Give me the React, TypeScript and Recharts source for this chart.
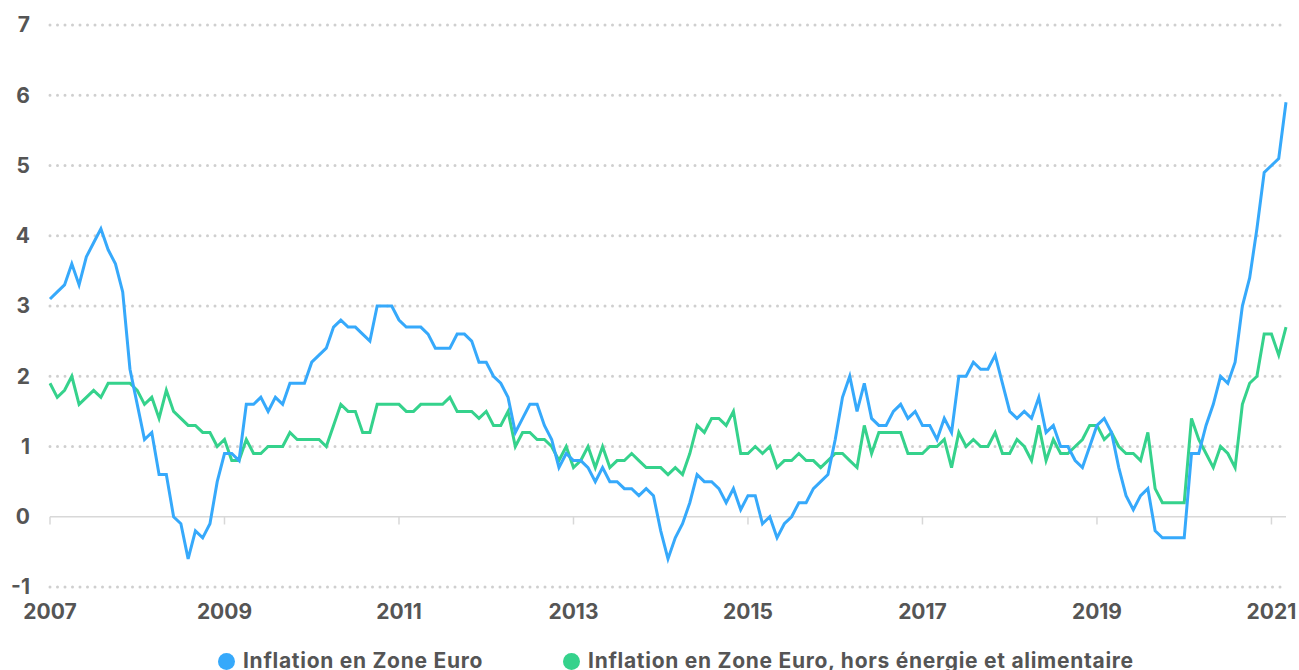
import React from 'react';
import {
  LineChart,
  Line,
  XAxis,
  YAxis,
  CartesianGrid,
  ReferenceLine,
  Legend,
} from 'recharts';

// Monthly annual inflation rates (%), one value per month, left to right
const HICP: number[] = [
  3.1, 3.2, 3.3, 3.6, 3.3, 3.7, 3.9, 4.1, 3.8, 3.6, 3.2, 2.1,
  1.6, 1.1, 1.2, 0.6, 0.6, 0.0, -0.1, -0.6, -0.2, -0.3, -0.1, 0.5,
  0.9, 0.9, 0.8, 1.6, 1.6, 1.7, 1.5, 1.7, 1.6, 1.9, 1.9, 1.9,
  2.2, 2.3, 2.4, 2.7, 2.8, 2.7, 2.7, 2.6, 2.5, 3.0, 3.0, 3.0,
  2.8, 2.7, 2.7, 2.7, 2.6, 2.4, 2.4, 2.4, 2.6, 2.6, 2.5, 2.2,
  2.2, 2.0, 1.9, 1.7, 1.2, 1.4, 1.6, 1.6, 1.3, 1.1, 0.7, 0.9,
  0.8, 0.8, 0.7, 0.5, 0.7, 0.5, 0.5, 0.4, 0.4, 0.3, 0.4, 0.3,
  -0.2, -0.6, -0.3, -0.1, 0.2, 0.6, 0.5, 0.5, 0.4, 0.2, 0.4, 0.1,
  0.3, 0.3, -0.1, 0.0, -0.3, -0.1, 0.0, 0.2, 0.2, 0.4, 0.5, 0.6,
  1.1, 1.7, 2.0, 1.5, 1.9, 1.4, 1.3, 1.3, 1.5, 1.6, 1.4, 1.5,
  1.3, 1.3, 1.1, 1.4, 1.2, 2.0, 2.0, 2.2, 2.1, 2.1, 2.3, 1.9,
  1.5, 1.4, 1.5, 1.4, 1.7, 1.2, 1.3, 1.0, 1.0, 0.8, 0.7, 1.0,
  1.3, 1.4, 1.2, 0.7, 0.3, 0.1, 0.3, 0.4, -0.2, -0.3, -0.3, -0.3,
  -0.3, 0.9, 0.9, 1.3, 1.6, 2.0, 1.9, 2.2, 3.0, 3.4, 4.1, 4.9,
  5.0, 5.1, 5.9,
];

const CORE: number[] = [
  1.9, 1.7, 1.8, 2.0, 1.6, 1.7, 1.8, 1.7, 1.9, 1.9, 1.9, 1.9,
  1.8, 1.6, 1.7, 1.4, 1.8, 1.5, 1.4, 1.3, 1.3, 1.2, 1.2, 1.0,
  1.1, 0.8, 0.8, 1.1, 0.9, 0.9, 1.0, 1.0, 1.0, 1.2, 1.1, 1.1,
  1.1, 1.1, 1.0, 1.3, 1.6, 1.5, 1.5, 1.2, 1.2, 1.6, 1.6, 1.6,
  1.6, 1.5, 1.5, 1.6, 1.6, 1.6, 1.6, 1.7, 1.5, 1.5, 1.5, 1.4,
  1.5, 1.3, 1.3, 1.5, 1.0, 1.2, 1.2, 1.1, 1.1, 1.0, 0.8, 1.0,
  0.7, 0.8, 1.0, 0.7, 1.0, 0.7, 0.8, 0.8, 0.9, 0.8, 0.7, 0.7,
  0.7, 0.6, 0.7, 0.6, 0.9, 1.3, 1.2, 1.4, 1.4, 1.3, 1.5, 0.9,
  0.9, 1.0, 0.9, 1.0, 0.7, 0.8, 0.8, 0.9, 0.8, 0.8, 0.7, 0.8,
  0.9, 0.9, 0.8, 0.7, 1.3, 0.9, 1.2, 1.2, 1.2, 1.2, 0.9, 0.9,
  0.9, 1.0, 1.0, 1.1, 0.7, 1.2, 1.0, 1.1, 1.0, 1.0, 1.2, 0.9,
  0.9, 1.1, 1.0, 0.8, 1.3, 0.8, 1.1, 0.9, 0.9, 1.0, 1.1, 1.3,
  1.3, 1.1, 1.2, 1.0, 0.9, 0.9, 0.8, 1.2, 0.4, 0.2, 0.2, 0.2,
  0.2, 1.4, 1.1, 0.9, 0.7, 1.0, 0.9, 0.7, 1.6, 1.9, 2.0, 2.6,
  2.6, 2.3, 2.7,
];

const YEAR_LABELS: string[] = ['2007', '2009', '2011', '2013', '2015', '2017', '2019', '2021'];
const YEAR_TICK_INDEX: number[] = [0, 24, 48, 72, 96, 120, 144, 168];
const Y_TICKS: number[] = [-1, 0, 1, 2, 3, 4, 5, 6, 7];
const GRID_VALUES: number[] = [-1, 1, 2, 3, 4, 5, 6, 7];

const SERIES_NAMES = {
  hicp: 'Inflation en Zone Euro',
  core: 'Inflation en Zone Euro, hors énergie et alimentaire',
};
const COLORS = { hicp: '#36a9fb', core: '#35d28c' };

const data = HICP.map((v, i) => ({ t: i, hicp: v, core: CORE[i] }));

const FONT = 'Inter, "DejaVu Sans", sans-serif';
const TEXT_COLOR = '#555555';

const renderLegend = () => (
  <div
    style={{
      height: 40,
      paddingTop: 21,
      paddingLeft: 218,
      boxSizing: 'border-box',
      display: 'flex',
      alignItems: 'flex-start',
      fontFamily: FONT,
      fontWeight: 700,
      fontSize: 21,
      letterSpacing: '0.72px',
      lineHeight: '20px',
      color: TEXT_COLOR,
      whiteSpace: 'nowrap',
    }}
  >
    {(['hicp', 'core'] as const).map((k, i) => (
      <div
        key={k}
        style={{ display: 'flex', alignItems: 'center', marginRight: i === 0 ? 80 : 0 }}
      >
        <span
          style={{
            width: 17,
            height: 17,
            borderRadius: '50%',
            background: COLORS[k],
            display: 'inline-block',
            marginRight: 8,
          }}
        />
        <span>{SERIES_NAMES[k]}</span>
      </div>
    ))}
  </div>
);

export default function App() {
  return (
    <div style={{ position: 'absolute', left: 0, top: 0, width: 1299, height: 670, background: '#fff' }}>
      <LineChart
        width={1299}
        height={670}
        data={data}
        margin={{ top: 25, right: 13, left: 0, bottom: 0 }}
      >
        <CartesianGrid
          vertical={false}
          horizontalValues={GRID_VALUES}
          stroke="#cfcfcf"
          strokeWidth={3}
          strokeDasharray="0 7.5"
          strokeLinecap="round"
        />
        <XAxis
          type="number"
          dataKey="t"
          domain={[0, 170]}
          ticks={YEAR_TICK_INDEX}
          tickFormatter={(v: number) => YEAR_LABELS[YEAR_TICK_INDEX.indexOf(v)]}
          axisLine={false}
          tickLine={false}
          tickMargin={11}
          height={43}
          interval={0}
          tick={{ fill: TEXT_COLOR, fontSize: 21, fontWeight: 700, fontFamily: FONT }}
        />
        <YAxis
          type="number"
          domain={[-1, 7]}
          ticks={Y_TICKS}
          axisLine={false}
          tickLine={false}
          width={50}
          tickMargin={14}
          interval={0}
          tick={{ fill: TEXT_COLOR, fontSize: 21, fontWeight: 700, fontFamily: FONT }}
        />
        <ReferenceLine y={0} stroke="#d8d8d8" strokeWidth={1.5} ifOverflow="extendDomain" />
        {YEAR_TICK_INDEX.map((t) => (
          <ReferenceLine
            key={t}
            segment={[
              { x: t, y: 0 },
              { x: t, y: -0.11 },
            ]}
            stroke="#d8d8d8"
            strokeWidth={1.5}
          />
        ))}
        <Legend verticalAlign="bottom" align="left" content={renderLegend} wrapperStyle={{ left: 0, width: 1299 }} />
        <Line
          type="linear"
          dataKey="core"
          name={SERIES_NAMES.core}
          stroke={COLORS.core}
          strokeWidth={3}
          dot={false}
          activeDot={false}
          isAnimationActive={false}
        />
        <Line
          type="linear"
          dataKey="hicp"
          name={SERIES_NAMES.hicp}
          stroke={COLORS.hicp}
          strokeWidth={3}
          dot={false}
          activeDot={false}
          isAnimationActive={false}
        />
      </LineChart>
    </div>
  );
}
